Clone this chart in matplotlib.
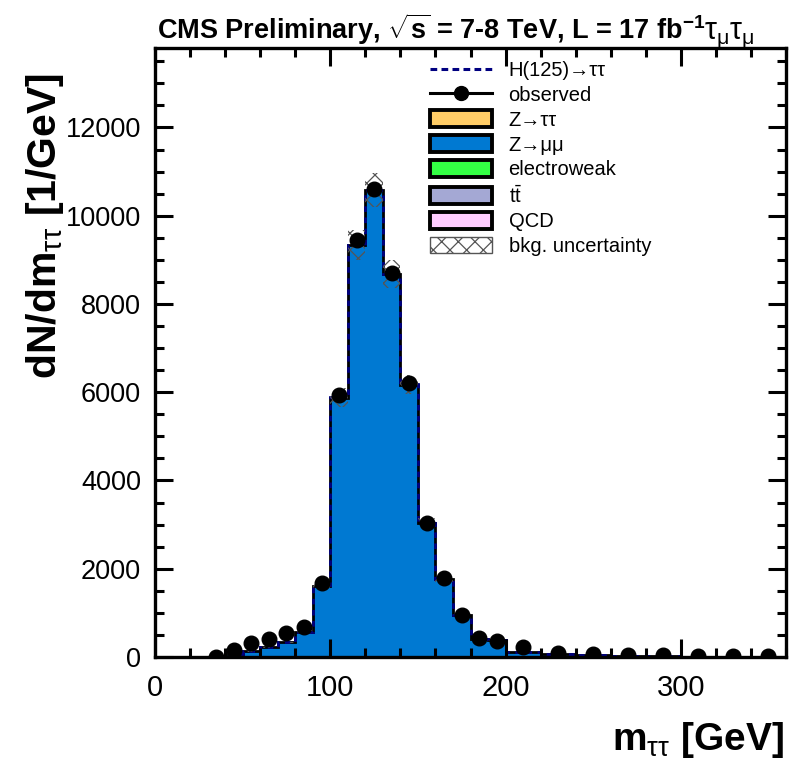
import numpy as np
import matplotlib
matplotlib.use("Agg")
import matplotlib.pyplot as plt
from matplotlib.patches import Patch
from matplotlib.lines import Line2D
from matplotlib.ticker import MultipleLocator

plt.rcParams['font.family'] = ['Liberation Sans', 'DejaVu Sans']
plt.rcParams['mathtext.fontset'] = 'custom'
plt.rcParams['mathtext.rm'] = 'Liberation Sans'
plt.rcParams['mathtext.it'] = 'Liberation Sans:italic'
plt.rcParams['mathtext.bf'] = 'Liberation Sans:bold'
plt.rcParams['hatch.linewidth'] = 0.9

# bin edges in GeV
edges = [0, 10, 20, 30, 40, 50, 60, 70, 80, 90, 100, 110, 120, 130, 140, 150,
         160, 170, 180, 190, 200, 220, 240, 260, 280, 300, 320, 340, 360]

# background components, dN/dm per bin
qcd = [0, 0, 0, 0, 2, 4, 5, 6, 6, 6, 8, 8, 8, 6, 6, 5, 4, 3, 3, 2, 2, 1, 1, 0, 0, 0, 0, 0]
ttbar = [0, 0, 0, 0, 1, 1, 2, 2, 3, 3, 4, 4, 4, 4, 4, 3, 3, 3, 3, 3, 2, 2, 1, 1, 1, 0, 0, 0]
ewk = [0, 0, 0, 1, 3, 5, 6, 8, 10, 12, 14, 16, 16, 14, 12, 10, 8, 6, 5, 4, 3, 2, 1, 1, 1, 0, 0, 0]
zmm = [0, 0, 0, 8, 52, 118, 205, 312, 538, 1595, 5850, 9300, 10550, 8650, 6150,
       3010, 1745, 930, 390, 370, 112, 55, 32, 18, 11, 8, 5, 3]
ztt = [0, 0, 0, 1, 2, 2, 2, 2, 3, 4, 4, 2, 2, 1, 1, 1, 0, 0, 0, 0, 0, 0, 0, 0, 0, 0, 0, 0]
higgs = [0, 0, 0, 0, 0, 0, 0, 0, 1, 2, 4, 6, 6, 5, 3, 2, 1, 1, 0, 0, 0, 0, 0, 0, 0, 0, 0, 0]
bkg_unc = [0, 0, 0, 1, 5, 8, 11, 15, 22, 60, 220, 340, 380, 310, 220, 110, 65, 36,
           15, 14, 5, 3, 1, 1, 0, 0, 0, 0]

# observed
observed = [np.nan, np.nan, np.nan, 5, 160, 310, 400, 535, 690, 1670, 5930, 9440,
            10610, 8710, 6200, 3040, 1780, 960, 440, 370, 230, 100, 70, 45, 40, 30, 25, 20]

edges = np.array(edges, dtype=float)
centers = 0.5 * (edges[1:] + edges[:-1])
widths = np.diff(edges)

fig = plt.figure(figsize=(7.89, 7.68), dpi=100)
ax = fig.add_axes([155 / 789, 1 - 657 / 768, 631 / 789, 609 / 768])

colors = {
    'QCD': '#ffccff',
    'tt': '#a4a8d4',
    'EWK': '#33ff44',
    'Zmm': '#0079d2',
    'Ztt': '#ffcc66',
}
stack = [('QCD', qcd), ('tt', ttbar), ('EWK', ewk), ('Zmm', zmm), ('Ztt', ztt)]

base = np.zeros(len(centers))
for name, vals in stack:
    vals = np.array(vals, dtype=float)
    top = base + vals
    ax.stairs(top, edges, baseline=base, fill=True, color=colors[name], lw=0)
    base = top
total = base

# outline of the background stack and signal on top
ax.stairs(total, edges, color='black', lw=2.0)
sig_top = total + np.array(higgs, dtype=float)
ax.stairs(sig_top, edges, color='#000080', lw=2.0, ls=(0, (2.0, 2.0)))

# uncertainty band
unc = np.array(bkg_unc, dtype=float)
lo = np.append(total - unc, (total - unc)[-1])
hi = np.append(total + unc, (total + unc)[-1])
ax.fill_between(edges, lo, hi, step='post', facecolor='none',
                edgecolor='#555555', hatch='xx', lw=0)

# observed
obs = np.array(observed, dtype=float)
err = np.sqrt(obs * widths) / widths
ax.errorbar(centers, obs, yerr=err, fmt='o', color='black', ms=10.5, lw=1.5,
            capsize=0, zorder=5)

ax.set_xlim(0, 360)
ax.set_ylim(0, 13800)
ax.xaxis.set_major_locator(MultipleLocator(100))
ax.xaxis.set_minor_locator(MultipleLocator(20))
ax.yaxis.set_major_locator(MultipleLocator(2000))
ax.yaxis.set_minor_locator(MultipleLocator(500))
ax.tick_params(which='both', direction='in', top=True, right=True, width=2.2)
ax.tick_params(which='major', length=13)
ax.tick_params(which='minor', length=6.5)
ax.tick_params(axis='x', labelsize=21, pad=12)
ax.tick_params(axis='y', labelsize=19.5, pad=10)
for s in ax.spines.values():
    s.set_linewidth(2.4)

fig.text(45 / 789, 1 - 73 / 768, r'dN/dm$_{\mathrm{\tau\tau}}$ [1/GeV]', rotation=90,
         ha='center', va='top', fontsize=29.5, fontweight='bold')
fig.text(784 / 789, 1 - 740 / 768, r'm$_{\mathrm{\tau\tau}}$ [GeV]',
         ha='right', va='center', fontsize=28, fontweight='bold')

fig.text(157 / 789, 1 - 39 / 768,
         r'CMS Preliminary, $\mathbf{\sqrt{s}}$ = 7-8 TeV, L = 17 fb$^{\mathbf{-1}}$',
         ha='left', va='baseline', fontsize=19.5, fontweight='bold')
fig.text(704 / 789, 1 - 39 / 768, r'$\mathrm{\tau_{\mu}\tau_{\mu}}$',
         ha='left', va='baseline', fontsize=22)

handles = [
    Line2D([], [], color='#000080', lw=2.2, ls=(0, (2.2, 1.4))),
    Line2D([], [], color='black', lw=2.2, marker='o', ms=10),
    Patch(facecolor=colors['Ztt'], edgecolor='black', lw=2.8),
    Patch(facecolor=colors['Zmm'], edgecolor='black', lw=2.8),
    Patch(facecolor=colors['EWK'], edgecolor='black', lw=2.8),
    Patch(facecolor=colors['tt'], edgecolor='black', lw=2.8),
    Patch(facecolor=colors['QCD'], edgecolor='black', lw=2.8),
    Patch(facecolor='white', edgecolor='#555555', hatch='xx', lw=1),
]
labels = ['H(125)→ττ', 'observed', 'Z→ττ', 'Z→μμ', 'electroweak',
          r't$\bar{\mathrm{t}}$', 'QCD', 'bkg. uncertainty']
ax.legend(handles, labels, loc='upper left', bbox_to_anchor=(430 / 789, 1 - 61 / 768),
          bbox_transform=fig.transFigure, frameon=False, fontsize=14.5,
          handlelength=3.1, handleheight=0.9, labelspacing=0.27, borderpad=0,
          borderaxespad=0, handletextpad=0.8)

fig.savefig('out.png', dpi=100)
